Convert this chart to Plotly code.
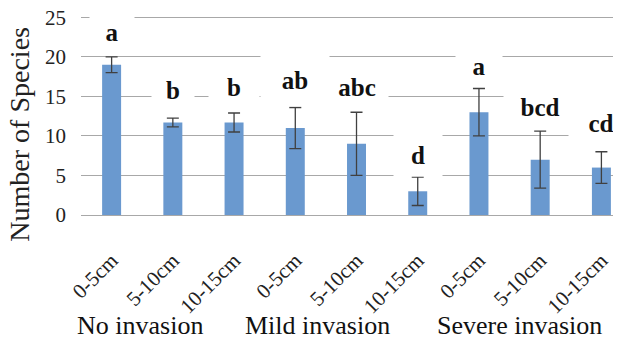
import plotly.graph_objects as go

depths = ["0-5cm", "5-10cm", "10-15cm", "0-5cm", "5-10cm", "10-15cm", "0-5cm", "5-10cm", "10-15cm"]
groups = ["No invasion", "Mild invasion", "Severe invasion"]
species = [19, 11.7, 11.7, 11, 9, 3, 13, 7, 6]
errors = [1.0, 0.55, 1.2, 2.6, 4.0, 1.8, 3.0, 3.6, 2.0]
letters = ["a", "b", "b", "ab", "abc", "d", "a", "bcd", "cd"]
letter_y = [23.2, 15.75, 16.2, 17.1, 16.2, 7.6, 18.9, 13.6, 11.65]
y_ticks = [0, 5, 10, 15, 20, 25]

# style: white label boxes (px) and group label positions
box_w = [44, 42, 50, 68, 62, 48, 46, 72, 64]
box_h = [36, 36, 36, 52, 40, 42, 36, 40, 54]
group_x = [0.46, 3.37, 6.66]

SERIF = "Liberation Serif"
xs = list(range(len(depths)))

fig = go.Figure()
fig.add_trace(go.Bar(
    x=xs, y=species,
    marker=dict(color="#6A99CF", line=dict(width=0)),
    error_y=dict(type="data", array=errors, visible=True, color="#404040", thickness=1.3, width=6),
    width=0.31,
))

for i, (lt, ly) in enumerate(zip(letters, letter_y)):
    fig.add_annotation(x=xs[i], y=ly, xref="x", yref="y", text="<b>" + lt + "</b>", showarrow=False,
                       font=dict(family=SERIF, size=25, color="#111111"),
                       bgcolor="white", width=box_w[i], height=box_h[i], borderpad=0,
                       xanchor="center", yanchor="middle")

for gx, g in zip(group_x, groups):
    fig.add_annotation(x=gx, y=-0.552, xref="x", yref="paper", text=g, showarrow=False,
                       font=dict(family=SERIF, size=26, color="#111111"),
                       xanchor="center", yanchor="middle")

fig.add_annotation(x=-0.114, y=0.404, xref="paper", yref="paper", text="Number of Species",
                   textangle=-90, showarrow=False, font=dict(family=SERIF, size=28, color="#222222"),
                   xanchor="center", yanchor="middle")

# the page body adds an 8px offset, so margins are reduced by 8 on left/top
fig.update_layout(
    width=621, height=337,
    margin=dict(l=73, r=8, t=7, b=130, autoexpand=False),
    plot_bgcolor="white", paper_bgcolor="white",
    showlegend=False,
    font=dict(family=SERIF),
    xaxis=dict(range=[-0.5, 8.32], tickmode="array", tickvals=xs, ticktext=depths,
               tickangle=-45, showgrid=False, zeroline=False, showline=False,
               tickfont=dict(family=SERIF, size=21, color="#222222"),
               ticklabelstandoff=28, automargin=False),
    yaxis=dict(range=[0, 25.3], tickmode="array", tickvals=y_ticks, showgrid=True,
               gridcolor="#A8A8A8", gridwidth=1, zeroline=True, zerolinecolor="#A8A8A8",
               zerolinewidth=1, showline=False, automargin=False,
               ticklabeloverflow="allow",
               tickfont=dict(family=SERIF, size=21, color="#222222"),
               ticklabelstandoff=14),
)

fig.write_html("out.html")
